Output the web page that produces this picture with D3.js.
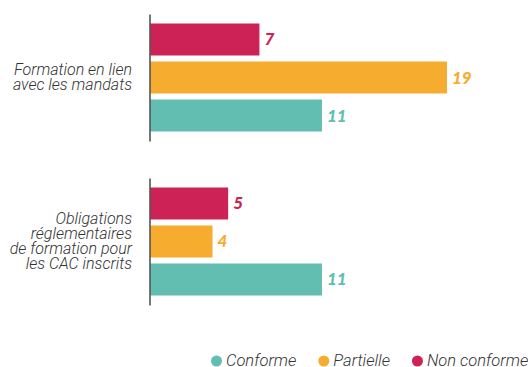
<!DOCTYPE html>
<html>
<head>
<meta charset="utf-8">
<script src="https://cdn.jsdelivr.net/npm/d3@7"></script>
<style>
  body { margin: 0; background: #fff; }
  text { font-family: Roboto, "Noto Sans", sans-serif; }
</style>
</head>
<body>
<svg id="chart" width="528" height="367"></svg>
<script>
// categories (each label split into its lines)
const groups = ["Formation en lien avec les mandats", "Obligations réglementaires de formation pour les CAC inscrits"];
const groupLines = [
    ["Formation en lien", "avec les mandats"],
    ["Obligations", "réglementaires", "de formation pour", "les CAC inscrits"]
];

// series, in the order the bars are stacked top to bottom
const series = ["Non conforme", "Partielle", "Conforme"];
const colors = ["#cc2255", "#f6ac2f", "#62beb1"];

// values per group, same order as series
const nonConforme = [7, 5];
const partielle = [19, 4];
const conforme = [11, 11];

// legend order
const legendOrder = ["Conforme", "Partielle", "Non conforme"];

let svg = d3.select("#chart");

let color = d3.scaleOrdinal().domain(series).range(colors);

let values = [nonConforme, partielle, conforme];

let y0 = d3.scaleBand()
    .domain(groups)
    .range([14, 305])
    .paddingInner(0.2256)
    .paddingOuter(0);

let y1 = d3.scaleBand()
    .domain(series)
    .range([0, y0.bandwidth()])
    .paddingInner(0.158)
    .paddingOuter(0.25);

let x = d3.scaleLinear()
    .domain([0, 19])
    .range([150, 447]);

groups.forEach(function (g, gi) {
    let top = y0(g);
    let grp = svg.append("g")
        .attr("transform", "translate(0," + top + ")");

    let rows = series.map((s, si) => ({ series: s, value: values[si][gi] }));

    grp.selectAll("rect")
        .data(rows)
        .enter()
        .append("rect")
        .attr("x", x(0))
        .attr("y", (d) => y1(d.series))
        .attr("width", (d) => x(d.value) - x(0))
        .attr("height", y1.bandwidth())
        .attr("fill", (d) => color(d.series));

    grp.selectAll("text.val")
        .data(rows)
        .enter()
        .append("text")
        .attr("class", "val")
        .attr("x", (d) => x(d.value) + 5)
        .attr("y", (d) => y1(d.series) + y1.bandwidth() / 2 + 6)
        .attr("fill", (d) => color(d.series))
        .style("font-family", "Lato, sans-serif")
        .style("font-weight", 900)
        .style("font-style", "italic")
        .style("font-size", "17px")
        .text((d) => d.value);

    // axis line, one per group
    let axis = d3.axisLeft(d3.scaleLinear().range([0, y0.bandwidth()]))
        .ticks(0).tickSize(0).tickFormat("");
    let ax = grp.append("g")
        .attr("transform", "translate(" + (x(0) - 0.5) + ",0)")
        .call(axis);
    ax.select(".domain")
        .attr("stroke", "#555")
        .attr("stroke-width", 1.6);

    // category label
    let lines = groupLines[gi];
    let mid = y0.bandwidth() / 2;
    let label = grp.append("text")
        .attr("text-anchor", "end")
        .attr("fill", "#333")
        .style("font-style", "italic")
        .style("font-weight", 300)
        .style("font-size", "16px");
    lines.forEach(function (l, li) {
        label.append("tspan")
            .attr("x", 132)
            .attr("y", mid + (li - (lines.length - 1) / 2) * 15 + 5)
            .text(l);
    });
});

// legend
let legend = svg.append("g").attr("transform", "translate(0,361)");
let lx = 211;
legendOrder.forEach(function (s) {
    let item = legend.append("g");
    item.append("circle")
        .attr("cx", lx + 5.5)
        .attr("cy", 0)
        .attr("r", 5.5)
        .attr("fill", color(s));
    let t = item.append("text")
        .attr("x", lx + 15)
        .attr("y", 4.5)
        .attr("fill", "#333")
        .style("font-style", "italic")
        .style("font-weight", 300)
        .style("font-size", "16.5px")
        .text(s);
    lx += 15 + t.node().getComputedTextLength() + 22;
});
</script>
</body>
</html>
